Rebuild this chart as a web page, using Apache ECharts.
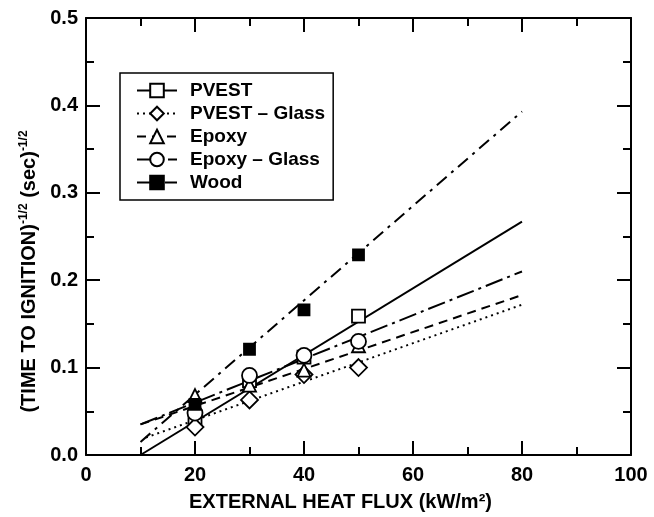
<!DOCTYPE html>
<html>
<head>
<meta charset="utf-8">
<script src="https://cdn.jsdelivr.net/npm/echarts@6/dist/echarts.min.js"></script>
<style>
  html, body { margin: 0; padding: 0; background: #fff; }
  #main { width: 654px; height: 517px; }
</style>
</head>
<body>
<div id="main"></div>
<script>
var names = ['PVEST', 'PVEST – Glass', 'Epoxy', 'Epoxy – Glass', 'Wood'];
var fitPvest = [[10, 0.0], [80, 0.267]];
var fitPvestGlass = [[11, 0.02], [80, 0.172]];
var fitEpoxy = [[10, 0.035], [80, 0.183]];
var fitEpoxyGlass = [[10, 0.035], [80, 0.21]];
var fitWood = [[10, 0.015], [80, 0.393]];

var ptsPvest = [[20, 0.04], [30, 0.085], [40, 0.112], [50, 0.159]];
var ptsPvestGlass = [[20, 0.032], [30, 0.063], [40, 0.092], [50, 0.10]];
var ptsEpoxy = [[20, 0.068], [30, 0.08], [40, 0.097], [50, 0.125]];
var ptsEpoxyGlass = [[20, 0.048], [30, 0.091], [40, 0.114], [50, 0.13]];
var ptsWood = [[20, 0.058], [30, 0.121], [40, 0.166], [50, 0.229]];

var font = '"Liberation Sans", Arial, sans-serif';
var black = '#000';

function fitLine(name, data, symbol, dash, fill) {
    return {
        name: name,
        type: 'line',
        data: data,
        symbol: symbol,
        showSymbol: false,
        silent: true,
        lineStyle: { color: black, width: 2, type: dash },
        itemStyle: { color: fill, borderColor: black, borderWidth: 1.8 },
        z: 2
    };
}

function points(name, data, symbol, size, fill) {
    return {
        name: name,
        type: 'scatter',
        data: data,
        symbol: symbol,
        symbolSize: size,
        itemStyle: { color: fill, borderColor: black, borderWidth: 1.8, opacity: 1 },
        z: 3
    };
}

// frame axes: ticks pointing in, on all four sides
function frameAxis(pos, isX) {
    var a = {
        type: 'value',
        position: pos,
        axisLine: { show: true, onZero: false, lineStyle: { color: black, width: 2 } },
        axisTick: { show: true, inside: true, length: 14, lineStyle: { color: black, width: 2 } },
        minorTick: { show: true, splitNumber: 2, length: 8, lineStyle: { color: black, width: 2 } },
        splitLine: { show: false },
        axisLabel: { show: false }
    };
    if (isX) { a.min = 0; a.max = 100; a.interval = 20; }
    else { a.min = 0; a.max = 0.5; a.interval = 0.1; }
    return a;
}

var myChart = echarts.init(document.getElementById('main'));

var xBottom = frameAxis('bottom', true);
xBottom.axisLabel = { show: true, color: black, fontSize: 20, fontWeight: 'bold', fontFamily: font, margin: 10 };
xBottom.name = 'EXTERNAL HEAT FLUX (kW/m²)';
xBottom.nameLocation = 'middle';
xBottom.nameGap = 37;
xBottom.nameTextStyle = { color: black, fontSize: 20, fontWeight: 'bold', fontFamily: font, padding: [0, 36, 0, 0] };

var yLeft = frameAxis('left', false);
yLeft.axisLabel = {
    show: true, color: black, fontSize: 20, fontWeight: 'bold', fontFamily: font, margin: 8,
    formatter: function (v) { return v.toFixed(1); }
};
yLeft.name = '(TIME TO IGNITION){s|-1/2} (sec){s|-1/2}';
yLeft.nameLocation = 'middle';
yLeft.nameRotate = 90;
yLeft.nameGap = 45;
yLeft.nameTextStyle = {
    color: black, fontSize: 20, fontWeight: 'bold', fontFamily: font, padding: [0, 70, 0, 0],
    rich: { s: { fontSize: 12, fontWeight: 'bold', fontFamily: font, color: black, padding: [0, 0, 11, 0] } }
};

var option = {
    animation: false,
    backgroundColor: '#fff',
    grid: { left: 86, right: 23, top: 18, bottom: 59 },
    xAxis: [xBottom, frameAxis('top', true)],
    yAxis: [yLeft, frameAxis('right', false)],
    legend: {
        data: names,
        orient: 'vertical',
        left: 120,
        top: 73,
        backgroundColor: '#fff',
        borderColor: black,
        borderWidth: 1.5,
        borderRadius: 0,
        padding: [8, 8, 8, 16],
        itemGap: 4,
        itemWidth: 40,
        itemHeight: 17,
        selectedMode: false,
        textStyle: { color: black, fontSize: 19, fontWeight: 'bold', fontFamily: font, padding: [0, 0, 0, 8] }
    },
    series: [
        fitLine(names[0], fitPvest, 'rect', 'solid', '#fff'),
        fitLine(names[1], fitPvestGlass, 'diamond', [2, 4], '#fff'),
        fitLine(names[2], fitEpoxy, 'triangle', [9, 6], '#fff'),
        fitLine(names[3], fitEpoxyGlass, 'circle', [18, 5, 3, 5], '#fff'),
        fitLine(names[4], fitWood, 'rect', [13, 6, 3, 6], black),
        points('pts1', ptsPvest, 'rect', 13, '#fff'),
        points('pts2', ptsPvestGlass, 'diamond', 17, '#fff'),
        points('pts3', ptsEpoxy, 'triangle', 13, '#fff'),
        points('pts4', ptsEpoxyGlass, 'circle', 15, '#fff'),
        points('pts5', ptsWood, 'rect', 11, black)
    ]
};
myChart.setOption(option);
</script>
</body>
</html>
